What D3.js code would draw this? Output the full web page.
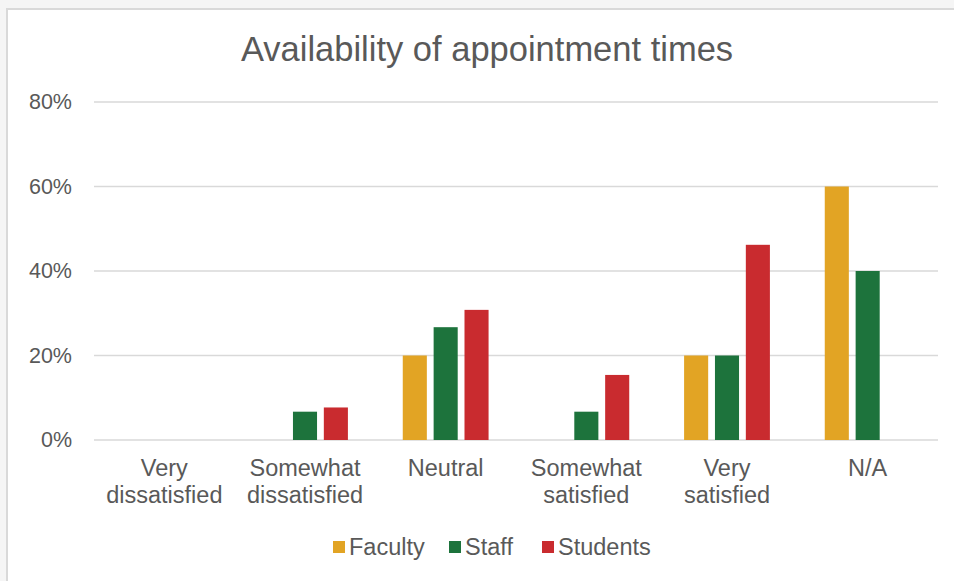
<!DOCTYPE html>
<html>
<head>
<meta charset="utf-8">
<script src="https://cdn.jsdelivr.net/npm/d3@7"></script>
<style>
  body { margin: 0; background: #f5f5f5; }
  svg { display: block; }
  text { font-family: "Liberation Sans", Arial, sans-serif; fill: #595959; }
</style>
</head>
<body>
<svg></svg>
<script>
const categories = [
  ["Very", "dissatisfied"],
  ["Somewhat", "dissatisfied"],
  ["Neutral"],
  ["Somewhat", "satisfied"],
  ["Very", "satisfied"],
  ["N/A"]
];
const series = ["Faculty", "Staff", "Students"];
const colors = ["#e2a424", "#1d733c", "#c92b2f"];
const faculty = [0, 0, 0.20, 0, 0.20, 0.60];
const staff = [0, 0.067, 0.267, 0.067, 0.20, 0.40];
const students = [0, 0.077, 0.308, 0.154, 0.462, 0];
const yTicks = [0, 0.2, 0.4, 0.6, 0.8];

const values = [faculty, staff, students];
const width = 954, height = 581;
const margin = { left: 94, right: 16, top: 102, bottom: 141 };

const svg = d3.select('svg')
  .attr('width', width)
  .attr('height', height);

// white panel with grey frame
svg.append('rect')
  .attr('x', 7).attr('y', 9)
  .attr('width', width).attr('height', height)
  .attr('fill', '#fff')
  .attr('stroke', '#d9d9d9')
  .attr('stroke-width', 2);

svg.append('text')
  .attr('x', 487).attr('y', 61)
  .attr('text-anchor', 'middle')
  .style('font-size', '34.5px')
  .text('Availability of appointment times');

let x0 = d3.scaleBand()
  .domain(d3.range(categories.length))
  .range([margin.left, width - margin.right])
  .paddingInner(0.39)
  .paddingOuter(0.195);

let x1 = d3.scaleBand()
  .domain(series)
  .range([0, x0.bandwidth()])
  .paddingInner(0.22);

let y = d3.scaleLinear()
  .domain([0, 0.8])
  .range([height - margin.bottom, margin.top]);

// gridlines
svg.append('g')
  .attr('class', 'grid')
  .selectAll('line')
  .data(yTicks)
  .enter()
  .append('line')
  .attr('x1', margin.left)
  .attr('x2', width - margin.right)
  .attr('y1', d => y(d))
  .attr('y2', d => y(d))
  .style('stroke', '#d9d9d9')
  .attr('stroke-width', 1.5);

// y axis labels
let yAxis = svg.append('g')
  .attr('transform', `translate(${margin.left - 22},0)`)
  .call(d3.axisLeft(y).tickValues(yTicks).tickFormat(d3.format('.0%')).tickSize(0).tickPadding(0));
yAxis.select('.domain').remove();
yAxis.selectAll('text')
  .style('font-size', '21.5px')
  .attr('fill', '#595959')
  .style('font-family', '"Liberation Sans", Arial, sans-serif');

// bars
let groups = svg.append('g')
  .selectAll('g')
  .data(categories.map((c, i) => i))
  .enter()
  .append('g')
  .attr('transform', i => `translate(${x0(i)},0)`);

groups.selectAll('rect')
  .data(i => series.map((s, j) => ({ s, j, v: values[j][i] })))
  .enter()
  .filter(d => d.v > 0)
  .append('rect')
  .attr('x', d => x1(d.s))
  .attr('y', d => y(d.v))
  .attr('width', x1.bandwidth())
  .attr('height', d => y(0) - y(d.v))
  .attr('fill', d => colors[d.j]);

// category labels
let xLabels = svg.append('g')
  .selectAll('text')
  .data(categories)
  .enter()
  .append('text')
  .attr('text-anchor', 'middle')
  .attr('x', (d, i) => x0(i) + x0.bandwidth() / 2)
  .attr('y', 476)
  .style('font-size', '23.5px');

xLabels.selectAll('tspan')
  .data(d => d)
  .enter()
  .append('tspan')
  .attr('x', function() { return this.parentNode.getAttribute('x'); })
  .attr('dy', (d, i) => i === 0 ? 0 : 27)
  .text(d => d);

// legend
let legend = svg.append('g')
  .attr('transform', 'translate(333,547)');
let offsets = [0, 116, 209];
let item = legend.selectAll('g')
  .data(series)
  .enter()
  .append('g')
  .attr('transform', (d, i) => `translate(${offsets[i]},0)`);
item.append('rect')
  .attr('x', 0).attr('y', -6)
  .attr('width', 12).attr('height', 12)
  .attr('fill', (d, i) => colors[i]);
item.append('text')
  .attr('x', 16).attr('y', 8)
  .style('font-size', '23.5px')
  .text(d => d);
</script>
</body>
</html>
